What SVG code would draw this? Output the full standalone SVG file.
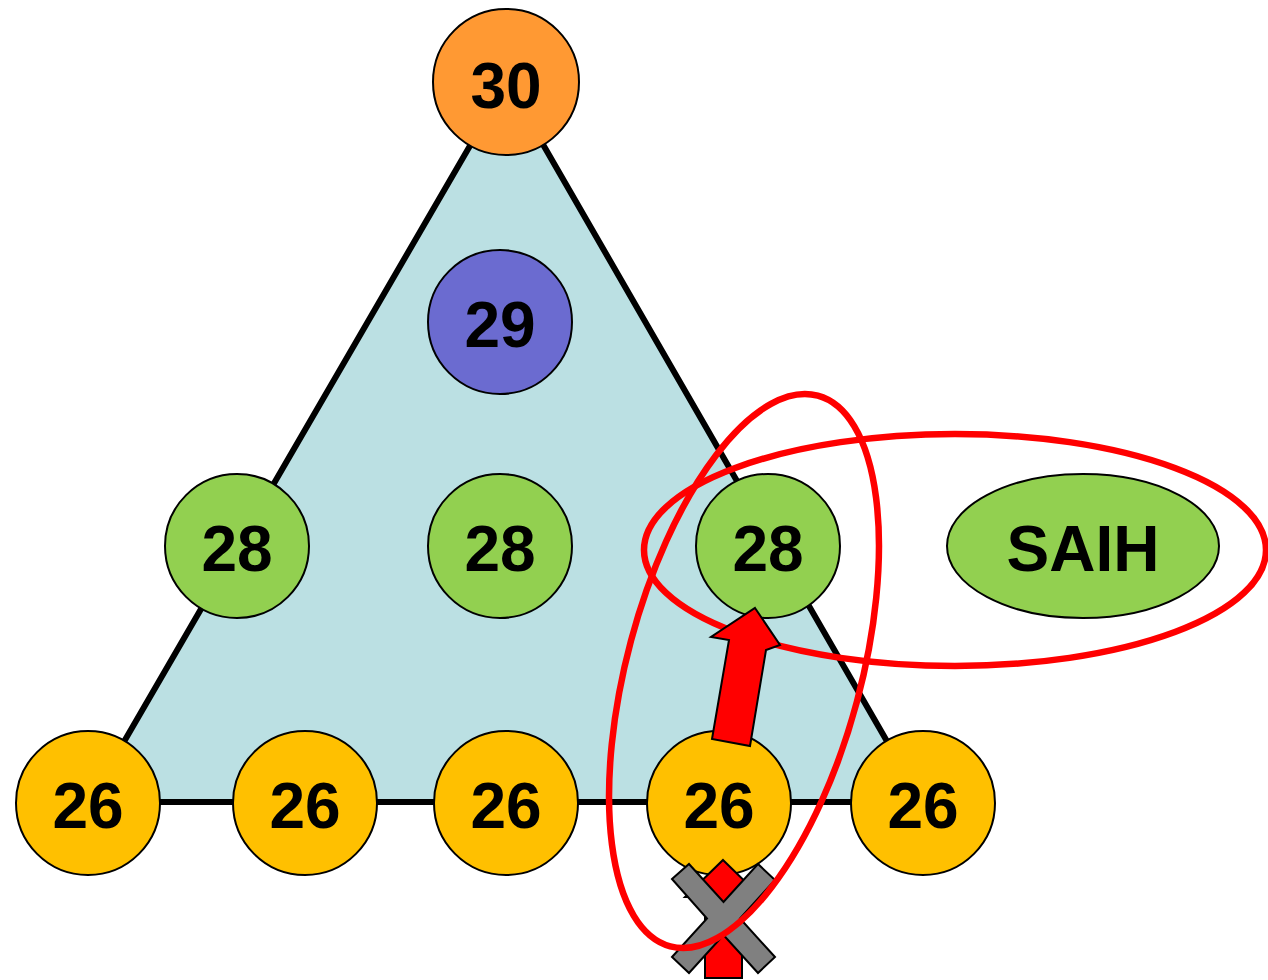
<svg xmlns="http://www.w3.org/2000/svg" width="1268" height="980" viewBox="0 0 1268 980">
<style>
.n{stroke:#000;stroke-width:2}
.t{font-family:"Liberation Sans",Arial,sans-serif;font-weight:bold;font-size:64px;text-anchor:middle;fill:#000}
.y{fill:#FFC000}.g{fill:#92D050}.o{fill:#FF9933}.p{fill:#6B6BD0}
.ring{fill:none;stroke:#FF0000;stroke-width:6.5}
.arr{fill:#FF0000;stroke:#000;stroke-width:2;stroke-linejoin:miter}
</style>
<rect width="1268" height="980" fill="#fff"/>
<g id="triangle">
<polygon points="507,82 89,802 922,802" fill="#BBE0E3" stroke="#000" stroke-width="6" stroke-linejoin="round"/>
</g>
<g id="n30"><circle class="n o" cx="506" cy="82" r="73"/><text class="t" x="506" y="108">30</text></g>
<g id="n29"><circle class="n p" cx="500" cy="322" r="72"/><text class="t" x="500" y="347">29</text></g>
<g id="n28a"><circle class="n g" cx="237" cy="546" r="72"/><text class="t" x="237" y="571">28</text></g>
<g id="n28b"><circle class="n g" cx="500" cy="546" r="72"/><text class="t" x="500" y="571">28</text></g>
<g id="n28c"><circle class="n g" cx="768" cy="546" r="72"/><text class="t" x="768" y="571">28</text></g>
<g id="saih"><ellipse class="n g" cx="1083" cy="546" rx="136" ry="72"/><text class="t" x="1083" y="571">SAIH</text></g>
<g id="n26a"><circle class="n y" cx="88" cy="803" r="72"/><text class="t" x="88" y="828">26</text></g>
<g id="n26b"><circle class="n y" cx="305" cy="803" r="72"/><text class="t" x="305" y="828">26</text></g>
<g id="n26c"><circle class="n y" cx="506" cy="803" r="72"/><text class="t" x="506" y="828">26</text></g>
<g id="n26d"><circle class="n y" cx="719" cy="803" r="72"/><text class="t" x="719" y="828">26</text></g>
<g id="n26e"><circle class="n y" cx="923" cy="803" r="72"/><text class="t" x="923" y="828">26</text></g>
<g id="connectors">
<polygon class="arr" points="723,860 761,897 742,897 742,978 705,978 705,897 685,897"/>
<polygon points="672,879 689,864 723.5,902 758,864 775,880 740,918.5 775,957 758,973 723.5,935 689,973 672,957 707,918.5" fill="#808080" stroke="#000" stroke-width="2" stroke-linejoin="miter"/>
</g>
<g id="rings">
<ellipse class="ring" cx="955" cy="550" rx="311" ry="116"/>
<ellipse class="ring" cx="744" cy="671" rx="117" ry="285" transform="rotate(15 744 671)"/>
</g>
<g id="arrow">
<polygon class="arr" points="755,608 780,645 766,650 750,746 712,739 729,640 711,637"/>
</g>
</svg>
